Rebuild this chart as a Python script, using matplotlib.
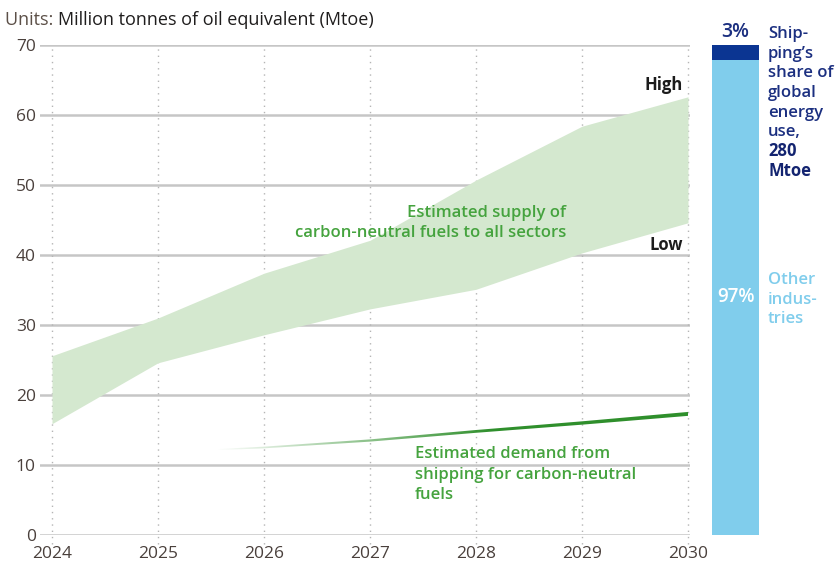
import numpy as np
import matplotlib.pyplot as plt

plt.rcParams['font.family'] = ['Open Sans', 'DejaVu Sans']

# supply of carbon-neutral fuels (Mtoe), low / high estimate
years = [2024, 2025, 2026, 2027, 2028, 2029, 2030]
supply_low = [15.9, 24.6, 28.6, 32.3, 35.1, 40.3, 44.6]
supply_high = [25.6, 31.0, 37.4, 42.1, 50.7, 58.4, 62.6]

# shipping demand for carbon-neutral fuels (Mtoe)
demand_years = [2025.55, 2026, 2027, 2028, 2029, 2030]
demand = [12.2, 12.5, 13.5, 14.8, 16.0, 17.3]

# share of global energy use (%)
share_other = 97
share_shipping = 3

yticks = [0, 10, 20, 30, 40, 50, 60, 70]

share_lines = ['Ship-', 'ping\u2019s', 'share of', 'global', 'energy', 'use,']
total_lines = ['280', 'Mtoe']
other_lines = ['Other', 'indus-', 'tries']

band_color = '#d4e8cf'
label_green = '#45a33e'
navy = '#1b2f80'
bar_dark = '#0b3592'
bar_light = '#80cdec'
tick_color = '#4a403c'

W, H = 836, 566
fig = plt.figure(figsize=(W / 100, H / 100), dpi=100)

# main chart
x0, x1 = 40, 690
ytop, ybot = 45, 535
ax = fig.add_axes([x0 / W, (H - ybot) / H, (x1 - x0) / W, (ybot - ytop) / H])
for s in ax.spines.values():
    s.set_visible(False)

for y in yticks:
    ax.axhline(y, color='#c6c6c6', lw=1.8, zorder=1)
for yr in years:
    ax.plot([yr, yr], [-1.3, 70], color='#b5b5b5', lw=1, ls=(0, (1, 3.5)),
            clip_on=False, zorder=1)

ax.fill_between(years, supply_low, supply_high, color=band_color, lw=0, zorder=2)

# demand line, fading in from the left
d = np.array(demand)
half_w = np.linspace(0.08, 0.28, len(d))
poly = ax.fill_between(demand_years, d - half_w, d + half_w,
                       facecolor='none', edgecolor='none', zorder=3)
fade = np.clip((np.linspace(0, 1, 400) * (2030 - demand_years[0])) / 2.6, 0, 1)
rgba = np.zeros((1, 400, 4))
rgba[..., :3] = [0x2f / 255, 0x8f / 255, 0x2c / 255]
rgba[0, :, 3] = fade
im = ax.imshow(rgba, extent=(demand_years[0], 2030, 11, 18), aspect='auto',
               interpolation='bilinear', zorder=3)
im.set_clip_path(poly.get_paths()[0], transform=ax.transData)
ax.set_xlim(2024 - 12 / 106, 2030 + 2 / 106)
ax.set_ylim(0, 70)

ax.set_xticks(years)
ax.set_xticklabels([str(y) for y in years])
ax.set_yticks(yticks)
ax.tick_params(length=0, labelsize=12.5, colors=tick_color)
ax.tick_params(axis='x', pad=8)
ax.tick_params(axis='y', pad=3)

ax.text(2029.95, 63.6, 'High', ha='right', va='baseline',
        fontsize=12, fontweight='bold', color='#1c1c1c')
ax.text(2029.95, 40.7, 'Low', ha='right', va='baseline',
        fontsize=12, fontweight='bold', color='#1c1c1c')
ax.text(2028.85, 44.6, 'Estimated supply of\ncarbon-neutral fuels to all sectors',
        ha='right', va='center', fontsize=12, fontweight='semibold',
        color=label_green, linespacing=1.3)
ax.text(2027.42, 12.7, 'Estimated demand from\nshipping for carbon-neutral\nfuels',
        ha='left', va='top', fontsize=12, fontweight='semibold',
        color=label_green, linespacing=1.38)

# title
t1 = fig.text(5 / W, 1 - 20 / H, 'Units: ', fontsize=13, color='#5c5048',
              va='center')
ax.annotate('Million tonnes of oil equivalent (Mtoe)', xy=(1, 0.5), xycoords=t1,
            va='center', ha='left', fontsize=13, color='#1f1d1d',
            annotation_clip=False)

# share bar
bx0, bx1 = 712, 759
bax = fig.add_axes([bx0 / W, (H - ybot) / H, (bx1 - bx0) / W, (ybot - ytop) / H])
bax.bar(0, share_other, width=1, color=bar_light)
bax.bar(0, share_shipping, bottom=share_other, width=1, color=bar_dark)
bax.set_xlim(-0.5, 0.5)
bax.set_ylim(0, 100)
bax.axis('off')
bax.text(0, 101.6, f'{share_shipping}%', ha='center', va='baseline',
         fontsize=14, fontweight='semibold', color=navy, clip_on=False)
bax.text(0, 47.5, f'{share_other}%', ha='center', va='baseline',
         fontsize=13.5, fontweight='semibold', color='white')

step = 19.7
for i, line in enumerate(share_lines):
    fig.text(768 / W, 1 - (38 + step * i) / H, line, ha='left', va='baseline',
             fontsize=12, fontweight='semibold', color=navy)
for i, line in enumerate(total_lines):
    fig.text(768 / W, 1 - (38 + step * (len(share_lines) + i)) / H, line,
             ha='left', va='baseline', fontsize=12, fontweight='bold',
             color='#132470')
for i, line in enumerate(other_lines):
    fig.text(768 / W, 1 - (284 + step * i) / H, line, ha='left', va='baseline',
             fontsize=12, fontweight='semibold', color=bar_light)

fig.savefig('out.png', dpi=100)
